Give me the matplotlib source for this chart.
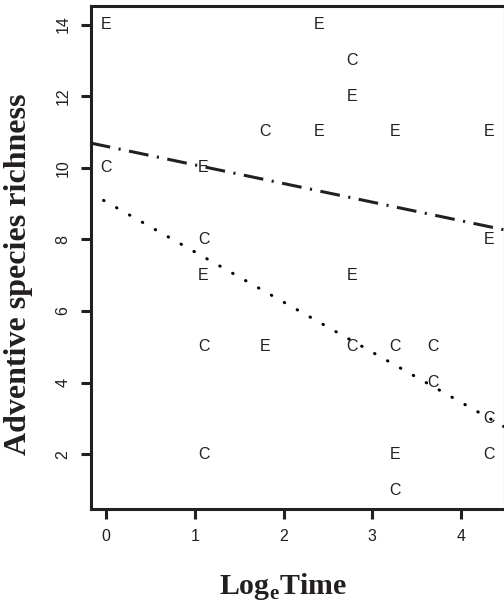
import numpy as np
import matplotlib
matplotlib.use("Agg")
import matplotlib.pyplot as plt

# log_e time of each sample and richness, labelled by group (E / C)
log_time = [0, 0,
            1.0986, 1.0986, 1.0986, 1.0986, 1.0986,
            1.7918, 1.7918,
            2.3979, 2.3979,
            2.7726, 2.7726, 2.7726, 2.7726,
            3.2581, 3.2581, 3.2581, 3.2581,
            3.6889, 3.6889,
            4.3175, 4.3175, 4.3175, 4.3175]
richness = [14, 10,
            10, 8, 7, 5, 2,
            11, 5,
            14, 11,
            13, 12, 7, 5,
            11, 5, 2, 1,
            5, 4,
            11, 8, 3, 2]
group = ["E", "C",
         "E", "C", "E", "C", "C",
         "C", "E",
         "E", "E",
         "C", "E", "E", "C",
         "E", "C", "E", "C",
         "C", "C",
         "E", "E", "C", "C"]

# fitted lines (intercept, slope)
fit_E = (10.60, -0.52)
fit_C = (9.05, -1.40)

ink = "#231f20"
sans = ["Liberation Sans", "DejaVu Sans"]
serif = ["Liberation Serif", "DejaVu Serif"]

fig = plt.figure(figsize=(5.04, 6.01), dpi=100)
ax = fig.add_axes([0.18, 0.1536, 0.821, 0.8366])

for x, y, g in zip(log_time, richness, group):
    ax.text(x, y, g, ha="center", va="center", fontsize=11.5,
            family=sans, color=ink)

xmin, xmax = -0.173, 4.49
xx = np.array([xmin, xmax])
ax.plot(xx, fit_E[0] + fit_E[1] * xx, color=ink, lw=2.2,
        dashes=(6.5, 2.8, 0.7, 2.8))
ax.plot(xx, fit_C[0] + fit_C[1] * xx, color="black", lw=2.2,
        dashes=(0.15, 4.7), dash_capstyle="round")

ax.set_xlim(xmin, xmax)
ax.set_ylim(0.48, 14.52)
ax.set_xticks([0, 1, 2, 3, 4])
ax.set_yticks([2, 4, 6, 8, 10, 12, 14])

for s in ax.spines.values():
    s.set_linewidth(2.2)
    s.set_color(ink)
ax.tick_params(direction="out", length=7, width=2.2, color=ink,
               labelsize=11.5, labelcolor=ink, pad=7.5)
for lab in ax.get_xticklabels() + ax.get_yticklabels():
    lab.set_family(sans)
for lab in ax.get_yticklabels():
    lab.set_rotation(90)
    lab.set_va("center")

ax.set_xlabel(r"Log$_{\mathregular{e}}$Time", fontsize=21.5, fontweight="bold",
              family=serif, color=ink)
ax.xaxis.set_label_coords(0.465, -0.124)
ax.set_ylabel("Adventive species richness", fontsize=23, fontweight="bold",
              family=serif, color=ink)
ax.yaxis.set_label_coords(-0.14, 0.467)

fig.savefig("out.png", dpi=100)
